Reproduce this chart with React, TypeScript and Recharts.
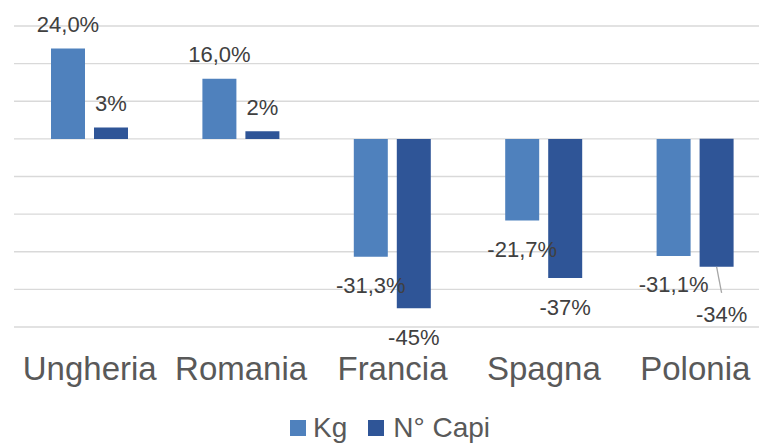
import React from 'react';
import { BarChart, Bar, XAxis, YAxis, CartesianGrid, Legend, LabelList } from 'recharts';

const categories = ['Ungheria', 'Romania', 'Francia', 'Spagna', 'Polonia'];
const kgValues = [24.0, 16.0, -31.3, -21.7, -31.1];
const capiValues = [3, 2, -45, -37, -34];
const yTicks = [-50, -40, -30, -20, -10, 0, 10, 20, 30];
const seriesNames = ['Kg', 'N° Capi'];

const KG_COLOR = '#4F81BD';
const CAPI_COLOR = '#2F5597';
const FONT = '"Liberation Sans", Arial, sans-serif';

const data = categories.map((c, i) => ({ name: c, kg: kgValues[i], capi: capiValues[i] }));

const fmtKg = (v: number) => v.toFixed(1).replace('.', ',') + '%';
const fmtCapi = (v: number) => Math.round(v) + '%';

const makeLabel = (fmt: (v: number) => string, leaderIndex: number) => (props: any) => {
  const { x, y, width, height, value, index } = props;
  const cx = Number(x) + Number(width) / 2;
  const y0 = Number(y);
  const y1 = Number(y) + Number(height);
  const top = Math.min(y0, y1);
  const bottom = Math.max(y0, y1);
  const v = Number(value);
  const common = {
    textAnchor: 'middle' as const,
    dominantBaseline: 'central' as const,
    fontFamily: FONT,
    fontSize: 22,
    fill: '#404040',
  };
  if (v >= 0) {
    return (
      <text x={cx} y={top - 24} {...common}>
        {fmt(v)}
      </text>
    );
  }
  if (index === leaderIndex) {
    return (
      <g>
        <line x1={cx} y1={bottom} x2={cx + 5} y2={bottom + 26} stroke="#A6A6A6" strokeWidth={1.3} />
        <text x={cx + 5} y={bottom + 48} {...common}>
          {fmt(v)}
        </text>
      </g>
    );
  }
  return (
    <text x={cx} y={bottom + 29} {...common}>
      {fmt(v)}
    </text>
  );
};

const renderLegend = () => (
  <div style={{ position: 'relative', width: 759, height: 60 }}>
    <div
      style={{
        position: 'absolute',
        left: 290,
        top: 29,
        display: 'flex',
        alignItems: 'center',
        fontFamily: FONT,
        fontSize: 28,
        lineHeight: '32px',
        color: '#595959',
        whiteSpace: 'nowrap',
      }}
    >
      <span style={{ display: 'inline-block', width: 16, height: 16, background: KG_COLOR, marginRight: 7 }} />
      <span style={{ marginRight: 21 }}>{seriesNames[0]}</span>
      <span style={{ display: 'inline-block', width: 16, height: 16, background: CAPI_COLOR, marginRight: 9 }} />
      <span>{seriesNames[1]}</span>
    </div>
  </div>
);

export default function App() {
  return (
    <div>
      <style>{'body{margin:0;background:#fff}'}</style>
      <BarChart
        width={759}
        height={443}
        data={data}
        margin={{ top: 26, right: -12, left: 14, bottom: 0 }}
        barSize={34}
        barGap={9}
      >
        <CartesianGrid vertical={false} stroke="#D9D9D9" strokeWidth={1.3} />
        <XAxis
          dataKey="name"
          axisLine={false}
          tickLine={false}
          tickSize={0}
          tickMargin={30}
          interval={0}
          height={56}
          tick={{ fontFamily: FONT, fontSize: 33, fill: '#595959' }}
        />
        <YAxis
          domain={[-50, 30]}
          ticks={yTicks}
          interval={0}
          width={0}
          tick={{ fontSize: 0, fill: 'none' }}
          tickFormatter={() => ''}
          axisLine={false}
          tickLine={false}
        />
        <Legend
          verticalAlign="bottom"
          height={60}
          content={renderLegend}
          wrapperStyle={{ left: 0, bottom: 0, width: 759, height: 60 }}
        />
        <Bar dataKey="kg" name={seriesNames[0]} fill={KG_COLOR} isAnimationActive={false}>
          <LabelList dataKey="kg" content={makeLabel(fmtKg, -1)} />
        </Bar>
        <Bar dataKey="capi" name={seriesNames[1]} fill={CAPI_COLOR} isAnimationActive={false}>
          <LabelList dataKey="capi" content={makeLabel(fmtCapi, 4)} />
        </Bar>
      </BarChart>
    </div>
  );
}
